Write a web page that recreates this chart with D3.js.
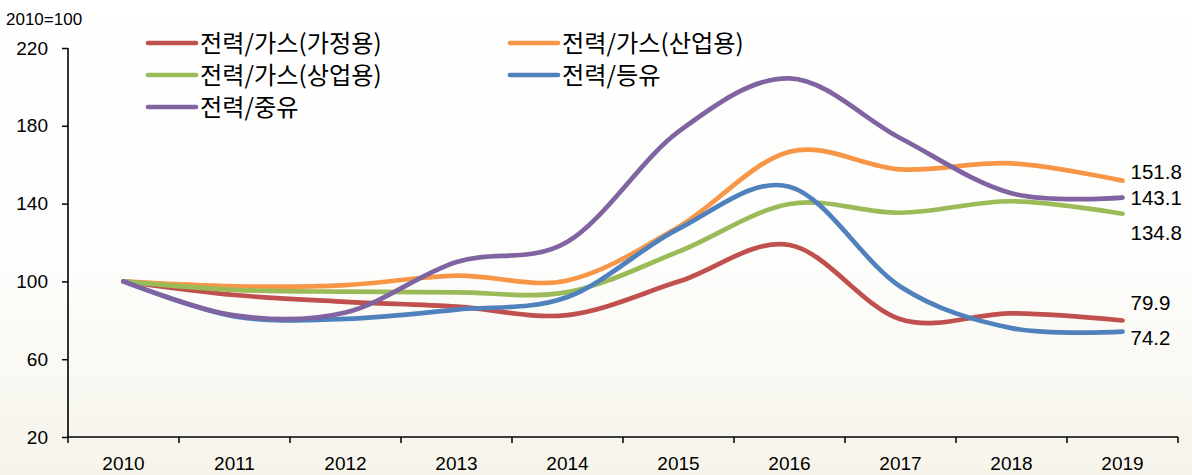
<!DOCTYPE html>
<html>
<head>
<meta charset="utf-8">
<script src="https://cdn.jsdelivr.net/npm/d3@7"></script>
<style>
  html, body { margin: 0; padding: 0; }
  body { width: 1192px; height: 475px; overflow: hidden; }
  text { font-family: "Liberation Sans", Arial, sans-serif; fill: #000; }
  .kr { font-family: "Noto Sans CJK KR", "Noto Sans", sans-serif; }
</style>
</head>
<body>
<svg id="chart" width="1192" height="475"></svg>
<script>
const years = ["2010","2011","2012","2013","2014","2015","2016","2017","2018","2019"];
const seriesNames = ["전력/가스(가정용)","전력/가스(산업용)","전력/가스(상업용)","전력/등유","전력/중유"];
const household  = [100, 93.0, 89.5, 87.0, 82.7, 99.9, 118.7, 80.5, 83.6, 79.9];
const industrial = [100, 97.5, 98.1, 103.0, 100.5, 128.0, 166.7, 157.6, 160.7, 151.8];
const commercial = [100, 95.6, 94.7, 94.4, 94.5, 115.3, 139.8, 135.3, 141.2, 134.8];
const kerosene   = [100, 82.0, 80.7, 85.5, 92.0, 127.0, 148.7, 97.3, 76.0, 74.2];
const heavyOil   = [100, 82.5, 84.0, 110.0, 120.4, 177.0, 204.4, 173.6, 145.3, 143.1];
const yTicks = [20, 60, 100, 140, 180, 220];
const endLabels = ["79.9","151.8","134.8","74.2","143.1"];
const colors = ["#C0504D","#F79646","#9BBB59","#4F81BD","#8064A2"];

const seriesValues = [household, industrial, commercial, kerosene, heavyOil];

const svg = d3.select("#chart");
const defs = svg.append("defs");
const grad = defs.append("linearGradient").attr("id","bg").attr("x1",0).attr("y1",0).attr("x2",0).attr("y2",1);
grad.append("stop").attr("offset","0%").attr("stop-color","#ffffff");
grad.append("stop").attr("offset","55%").attr("stop-color","#fdfdfc");
grad.append("stop").attr("offset","100%").attr("stop-color","#f6f4ea");
svg.append("rect").attr("width",1192).attr("height",475).attr("fill","url(#bg)");

const mLeft = 68, mRight = 1178, mTop = 48, mBottom = 437;
const x = d3.scaleBand().domain(years).range([mLeft, mRight]).padding(0);
const y = d3.scaleLinear().domain([20, 220]).range([mBottom, mTop]);

// y axis
const yAxis = svg.append("g").attr("transform", `translate(${mLeft},0)`)
  .call(d3.axisLeft(y).tickValues(yTicks).tickSize(6).tickPadding(14));
yAxis.select(".domain").attr("stroke","#000").attr("stroke-width",1.6).attr("d", `M0,${mTop}V${mBottom}`);
yAxis.selectAll(".tick line").attr("stroke","#000").attr("stroke-width",1.5);
yAxis.selectAll(".tick text").style("font-size","19px").attr("font-family",null);

// x axis
const xAxis = svg.append("g").attr("transform", `translate(0,${mBottom})`)
  .call(d3.axisBottom(x).tickSize(0).tickPadding(20));
xAxis.select(".domain").attr("stroke","#000").attr("stroke-width",1.6).attr("d", `M${mLeft},0H${mRight}`);
xAxis.selectAll(".tick text").style("font-size","19px").attr("font-family",null).attr("dy","0.71em").attr("y",20);
const bounds = years.map(d => x(d)).concat([x(years[years.length-1]) + x.bandwidth()]);
xAxis.selectAll(".bt").data(bounds).enter().append("line")
  .attr("x1", d => d).attr("x2", d => d).attr("y1", 0).attr("y2", 6)
  .attr("stroke","#000").attr("stroke-width",1.5);

// title
svg.append("text").attr("x",6).attr("y",25).style("font-size","17px").text("2010=100");

// lines
const line = d3.line()
  .x((d,i) => x(years[i]) + x.bandwidth()/2)
  .y(d => y(d))
  .curve(d3.curveCatmullRom.alpha(0));

seriesValues.forEach((vals, i) => {
  svg.append("path").datum(vals)
    .attr("d", line).attr("fill","none")
    .attr("stroke", colors[i]).attr("stroke-width",4.7)
    .attr("stroke-linecap","round").attr("stroke-linejoin","round");
});

// end labels
const labelOffsets = [-17.5, -8.6, 19.6, 6.5, 0];
const lastX = x(years[9]) + x.bandwidth()/2;
seriesValues.forEach((vals, i) => {
  svg.append("text")
    .attr("x", lastX + 8)
    .attr("y", y(+endLabels[i]) + labelOffsets[i])
    .attr("dy","0.35em")
    .style("font-size","20.5px")
    .text(endLabels[i]);
});

// legend
const legendPos = [
  {lx:148, ly:43}, {lx:510, ly:43},
  {lx:148, ly:75}, {lx:510, ly:75},
  {lx:148, ly:107}
];
seriesNames.forEach((name, si) => {
  const p = legendPos[si];
  const g = svg.append("g").attr("transform", `translate(${p.lx},${p.ly})`);
  g.append("line").attr("x1",0).attr("x2",48).attr("y1",0).attr("y2",0)
    .attr("stroke", colors[si]).attr("stroke-width",4.7).attr("stroke-linecap","round");
  g.append("text").attr("class","kr").attr("x",52).attr("y",0).attr("dy","0.36em")
    .style("font-size","24.2px").text(name);
});
</script>
</body>
</html>
